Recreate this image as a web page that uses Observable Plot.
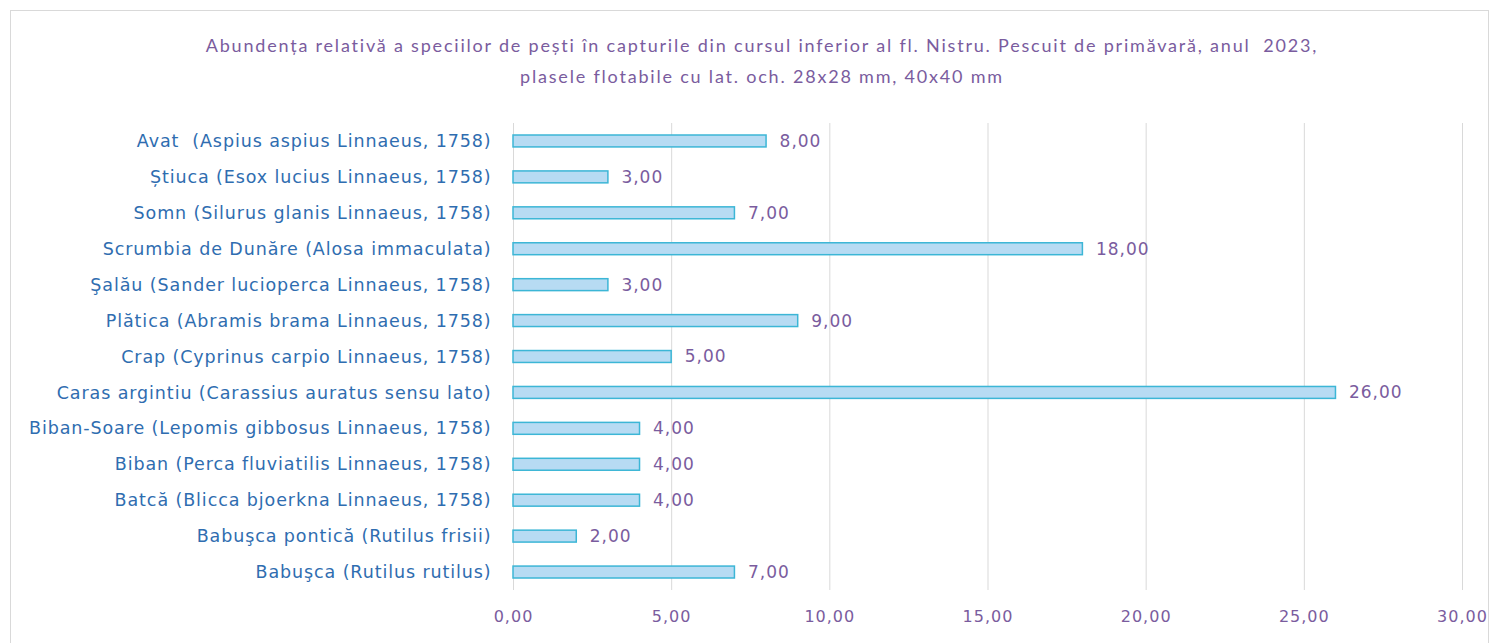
<!DOCTYPE html>
<html>
<head>
<meta charset="utf-8">
<script src="https://cdn.jsdelivr.net/npm/d3@7"></script>
<script src="https://cdn.jsdelivr.net/npm/@observablehq/plot@0.6"></script>
<style>
  body { margin: 0; background: #fff; font-family: "DejaVu Sans", sans-serif; }
  #wrap { position: relative; width: 1499px; height: 643px; overflow: hidden; }
  #frame { position: absolute; left: 10px; top: 10px; width: 1479px; height: 660px; border: 1px solid #d9d9d9; box-sizing: border-box; }
  #title { position: absolute; left: 0; top: 30px; width: 1524px; text-align: center; color: #7a5c9e; font-family: Lato, sans-serif; font-size: 18px; letter-spacing: 1.8px; line-height: 31px; }
  #chart { position: absolute; left: 0; top: 100px; }
  #chart g[aria-label="y-axis tick label"] text { letter-spacing: 0.9px; }
  #chart g[aria-label="x-axis tick label"] text { letter-spacing: 1px; }
  #chart g[aria-label="text"] text { letter-spacing: 1px; }
</style>
</head>
<body>
<div id="wrap">
  <div id="frame"></div>
  <div id="title">Abundența relativă a speciilor de pești în capturile din cursul inferior al fl. Nistru. Pescuit de primăvară, anul &nbsp;2023,<br>plasele flotabile cu lat. och. 28x28 mm, 40x40 mm</div>
  <div id="chart"></div>
</div>
<script>
const species = [
  "Avat  (Aspius aspius Linnaeus, 1758)",
  "Știuca (Esox lucius Linnaeus, 1758)",
  "Somn (Silurus glanis Linnaeus, 1758)",
  "Scrumbia de Dunăre (Alosa immaculata)",
  "Şalău (Sander lucioperca Linnaeus, 1758)",
  "Plătica (Abramis brama Linnaeus, 1758)",
  "Crap (Cyprinus carpio Linnaeus, 1758)",
  "Caras argintiu (Carassius auratus sensu lato)",
  "Biban-Soare (Lepomis gibbosus Linnaeus, 1758)",
  "Biban (Perca fluviatilis Linnaeus, 1758)",
  "Batcă (Blicca bjoerkna Linnaeus, 1758)",
  "Babuşca pontică (Rutilus frisii)",
  "Babuşca (Rutilus rutilus)"
];
const values = [8, 3, 7, 18, 3, 9, 5, 26, 4, 4, 4, 2, 7];
const xTicks = [0, 5, 10, 15, 20, 25, 30];

const data = species.map((s, i) => ({species: s, value: values[i]}));
const fmt = v => v.toFixed(2).replace(".", ",");

const chart = Plot.plot({
  width: 1499,
  height: 543,
  marginLeft: 513,
  marginRight: 37,
  marginTop: 23,
  marginBottom: 53,
  style: {fontFamily: "'DejaVu Sans', sans-serif", fontSize: "16px", background: "transparent", overflow: "visible"},
  x: {domain: [0, 30], ticks: xTicks, tickFormat: fmt, label: null},
  y: {domain: species, padding: 0, round: false, label: null},
  marks: [
    Plot.gridX(xTicks, {stroke: "#d9d9d9", strokeOpacity: 1, strokeWidth: 1}),
    Plot.axisX({ticks: xTicks, tickFormat: fmt, tickSize: 0, tickPadding: 20, color: "#7a5c9e", fontSize: 16, label: null}),
    Plot.axisY({tickSize: 0, tickPadding: 22, color: "#2f6db0", fontSize: 17.5, label: null}),
    Plot.barX(data, {x: "value", y: "species", fill: "#b7dbf3", stroke: "#3cb6d6", strokeWidth: 1.5, insetTop: 12, insetBottom: 12}),
    Plot.text(data, {x: "value", y: "species", text: d => fmt(d.value), dx: 13, textAnchor: "start", fill: "#7a5c9e", fontSize: 17})
  ]
});
document.getElementById("chart").appendChild(chart);
</script>
</body>
</html>
